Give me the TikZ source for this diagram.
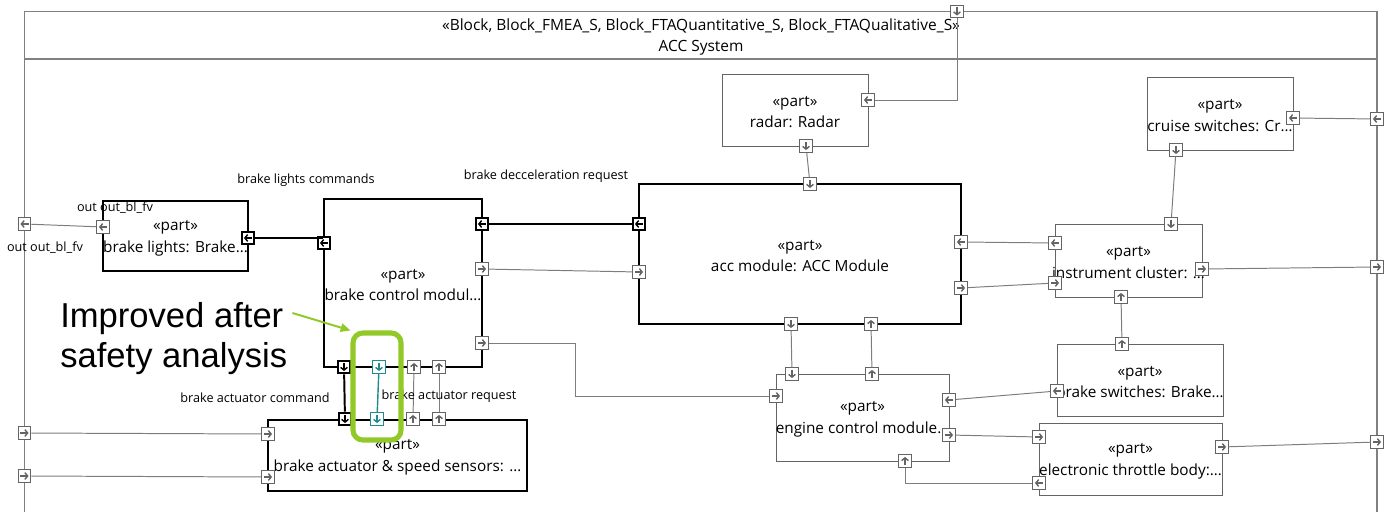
\documentclass[tikz,border=0pt]{standalone}
\usepackage{fontspec}
\setmainfont{Open Sans}
\newfontfamily\notefont{Liberation Sans}
\usetikzlibrary{arrows.meta,fit}
\definecolor{framegray}{RGB}{128,128,128}
\definecolor{wiregray}{RGB}{125,125,125}
\definecolor{boxgray}{RGB}{100,100,100}
\definecolor{sigteal}{RGB}{30,140,140}
\definecolor{markgreen}{RGB}{146,200,40}

\begin{document}
\begin{tikzpicture}[x=0.025cm, y=-0.025cm,
  frame/.style={draw=framegray, line width=1pt},
  part/.style={draw=boxgray, line width=0.7pt, inner sep=0pt},
  heavy/.style={draw=black, line width=1.4pt},
  partname/.style={align=center, yshift=-1.4pt, font=\fontsize{10.9}{15.5}\selectfont},
  port/.style={draw=boxgray, line width=0.6pt, fill=white, inner sep=0pt, minimum size=0.32cm},
  io/.style={port, path picture={\draw[line width=1pt, -{Straight Barb[length=2pt, width=4.8pt]}]
      ([shift={(#1+180:2.9pt)}]path picture bounding box.center) -- ([shift={(#1:2.9pt)}]path picture bounding box.center);}},
  portE/.style={io=0}, portW/.style={io=180}, portN/.style={io=90}, portS/.style={io=270},
  tealport/.style={draw=sigteal, line width=1pt},
  wire/.style={draw=wiregray, line width=0.7pt},
  bus/.style={draw=black, line width=1.4pt},
  flowlabel/.style={font=\fontsize{9}{11}\selectfont, inner sep=1pt},
  callout/.style={draw=markgreen, line width=1.4pt, -{Triangle[length=7pt, width=6pt]}},
  hl/.style={draw=markgreen, line width=3.6pt, rounded corners=7pt, inner sep=0pt}
]
\useasboundingbox (0,0) rectangle (1392,512);

\draw[frame] (24.5,512) |- (1377,11.5) -- (1377,512);
\draw[frame] (24.5,59) -- (1377,59);
\node[align=center, font=\fontsize{11}{15}\selectfont] (hdr) at (701,37)
  {«Block, Block\_FMEA\_S, Block\_FTAQuantitative\_S, Block\_FTAQualitative\_S»\\ACC System};

\node[part, fit={(722,74)(868,146)}, label={[partname]center:{«part»\\radar: Radar}}] (radar) {};
\node[part, heavy, fit={(639,184)(961,324)}, label={[partname]center:{«part»\\acc module: ACC Module}}] (acc) {};
\node[part, heavy, fit={(103,201)(248,271)}, label={[partname]center:{«part»\\brake lights: Brake…}}] (bl) {};
\node[part, heavy, fit={(324,199)(482,367)}, label={[partname]center:{«part»\\brake control modul…}}] (bcm) {};
\node[part, heavy, fit={(268,420)(527,491)}, label={[partname]center:{«part»\\brake actuator \& speed sensors: …}}] (bas) {};
\node[part, fit={(1147,77)(1293,150)}, label={[partname]center:{«part»\\cruise switches: Cr…}}] (cs) {};
\node[part, fit={(1055,224)(1202,297)}, label={[partname]center:{«part»\\instrument cluster: …}}] (ic) {};
\node[part, fit={(1057,344)(1223,416)}, label={[partname]center:{«part»\\brake switches: Brake…}}] (bs) {};
\node[part, fit={(776,374)(949,461)}, label={[partname]center:{«part»\\engine control module…}}] (ecm) {};
\node[part, fit={(1039,423)(1222,495)}, label={[partname]center:{«part»\\electronic throttle body:…}}] (etb) {};

\node[portS] (fTop) at (957,11.5) {};
\node[portW] (fBL) at (24.5,224) {};
\node[portE] (fBA1) at (24.5,433) {};
\node[portE] (fBA2) at (24.5,476) {};
\node[portW] (fCS) at (1377,119) {};
\node[portE] (fIC) at (1377,267) {};
\node[portE] (fETB) at (1377,442) {};

\node[portW] (radarE) at (868,100) {};
\node[portS] (radarS) at (806,146) {};

\node[portS] (accN) at (810,184) {};
\node[portW, heavy] (accW1) at (639,224) {};
\node[portE] (accW2) at (639,272) {};
\node[portW] (accE1) at (961,242) {};
\node[portE] (accE2) at (961,288) {};
\node[portS] (accS1) at (791,324) {};
\node[portN] (accS2) at (871,324) {};

\node[portW] (blW) at (103,227) {};
\node[portW, heavy] (blE) at (248,238) {};

\node[portW, heavy] (bcmW) at (324,243) {};
\node[portW, heavy] (bcmE1) at (482,224) {};
\node[portE] (bcmE2) at (482,269) {};
\node[portE] (bcmE3) at (482,343) {};
\node[portS, heavy] (bcmS1) at (344,367) {};
\node[portS, tealport] (bcmS2) at (379,367) {};
\node[portN] (bcmS3) at (414,367) {};
\node[portN] (bcmS4) at (439,367) {};

\node[portE] (basW1) at (268,434) {};
\node[portE] (basW2) at (268,477) {};
\node[portS, heavy] (basN1) at (345,419) {};
\node[portS, tealport] (basN2) at (377,419) {};
\node[portN] (basN3) at (413,419) {};
\node[portN] (basN4) at (439,419) {};

\node[portW] (csE) at (1293,118) {};
\node[portS] (csS) at (1176,150) {};

\node[portS] (icN) at (1171,224) {};
\node[portW] (icW1) at (1055,243) {};
\node[portE] (icW2) at (1055,283) {};
\node[portE] (icE) at (1202,269) {};
\node[portN] (icS) at (1121,297) {};

\node[portN] (bsN) at (1122,344) {};
\node[portW] (bsW) at (1057,391) {};

\node[portS] (ecmN1) at (792,374) {};
\node[portN] (ecmN2) at (872,374) {};
\node[portE] (ecmW) at (776,396) {};
\node[portW] (ecmE1) at (949,400) {};
\node[portE] (ecmE2) at (949,435) {};
\node[portN] (ecmS) at (905,461) {};

\node[portE] (etbW1) at (1039,437) {};
\node[portW] (etbW2) at (1039,483) {};
\node[portE] (etbE) at (1222,447) {};

\draw[wire] (fTop) |- (radarE);
\draw[wire] (radarS) -- (accN);
\draw[wire] (fBL) -- (blW);
\draw[bus] (blE) -- (blE -| bcm.west);
\draw[bus] (bcmE1) -- (accW1);
\draw[wire] (bcmE2) -- (accW2);
\draw[wire] (bcmE3) -- ++(93,0) |- (ecmW);
\draw[bus] (bcmS1) -- (basN1);
\draw[draw=sigteal, line width=1pt] (bcmS2) -- (basN2);
\draw[wire] (bcmS3) -- (basN3);
\draw[wire] (bcmS4) -- (basN4);
\draw[wire] (fBA1) -- (basW1);
\draw[wire] (fBA2) -- (basW2);
\draw[wire] (accE1) -- (icW1);
\draw[wire] (accE2) -- (icW2);
\draw[wire] (accS1) -- (ecmN1);
\draw[wire] (accS2) -- (ecmN2);
\draw[wire] (csE) -- (fCS);
\draw[wire] (csS) -- (icN);
\draw[wire] (icE) -- (fIC);
\draw[wire] (icS) -- (bsN);
\draw[wire] (bsW) -- (ecmE1);
\draw[wire] (ecmE2) -- (etbW1);
\draw[wire] (ecmS) |- (etbW2);
\draw[wire] (etbE) -- (fETB);

\node[flowlabel] (lblLights) at (306,180) {brake lights commands};
\node[flowlabel] (lblDecel) at (546,176) {brake decceleration request};
\node[flowlabel] (lblOut1) at (115,208) {out out\_bl\_fv};
\node[flowlabel] (lblOut2) at (45,248) {out out\_bl\_fv};
\node[flowlabel] (lblCmd) at (255,398) {brake actuator command};
\node[flowlabel] (lblReq) at (449,396) {brake actuator request};

\node[hl, fit={(353,333)(401,440)}] (fix) {};
\node[font=\notefont\fontsize{24.6}{28.5}\selectfont, align=left, anchor=north west, inner sep=0pt] (note) at (60,302)
  {Improved after\\safety analysis};
\draw[callout] ([shift={(5,11)}]note.north east) -- (fix.north west);
\end{tikzpicture}
\end{document}
